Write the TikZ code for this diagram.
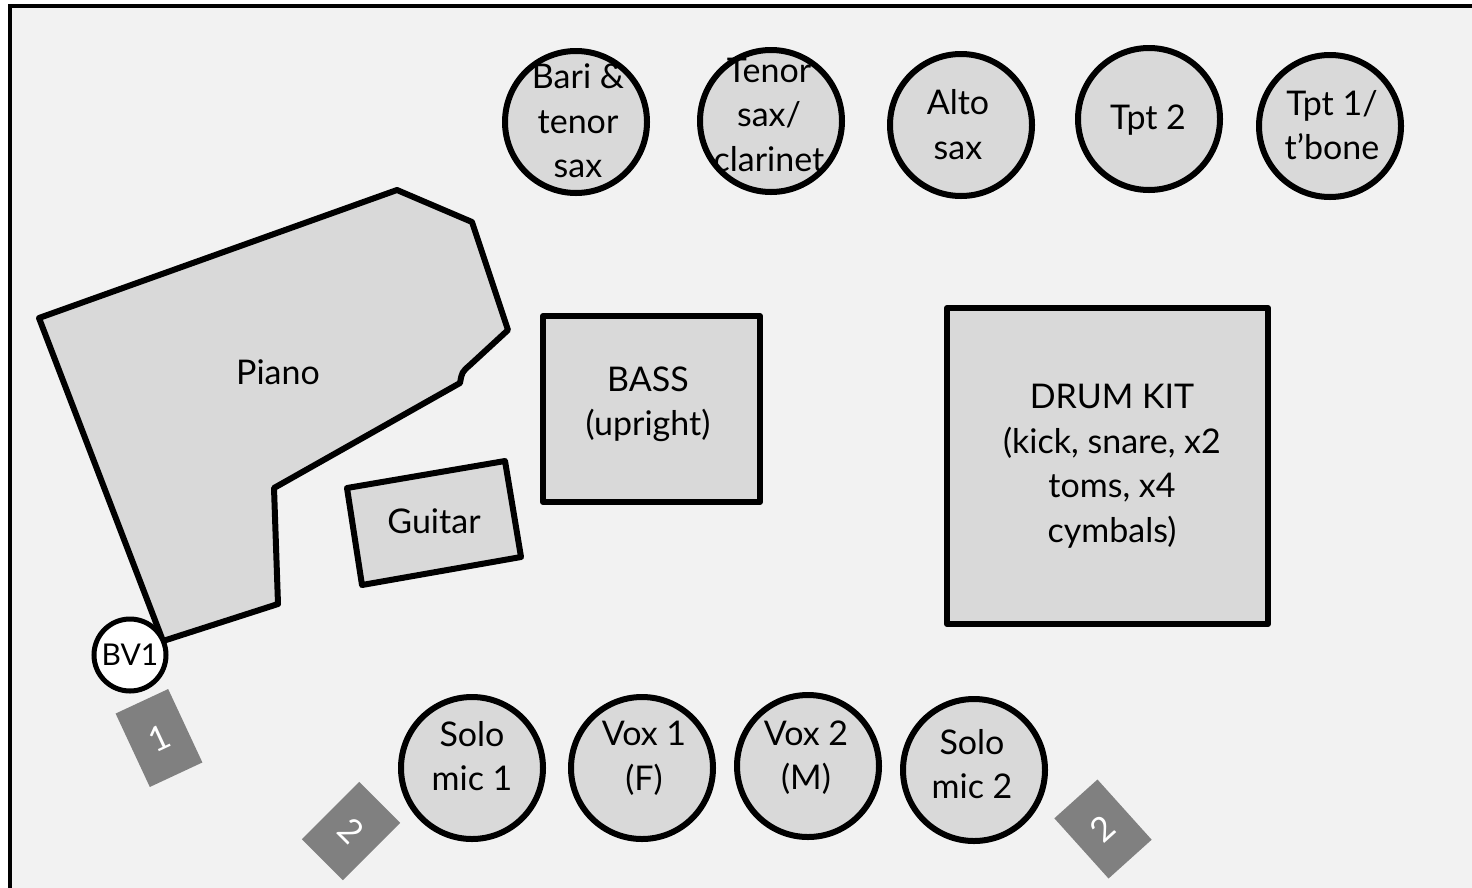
\documentclass[tikz,border=0pt]{standalone}
\usepackage{fontspec}
\setmainfont{Lato}
\definecolor{bgc}{HTML}{F2F2F2}
\definecolor{fillc}{HTML}{D9D9D9}
\definecolor{wedgec}{HTML}{808080}
\begin{document}
\begin{tikzpicture}[x=1pt,y=-1pt,
  instr/.style={draw=black,fill=fillc,line width=6pt,line join=round},
  seat/.style={circle,draw=black,fill=fillc,line width=6pt,minimum size=142pt,inner sep=0pt},
  txt/.style={align=center,font=\fontsize{34}{44.5}\selectfont,inner sep=0pt},
  ttxt/.style={align=center,font=\fontsize{34}{44.5}\selectfont,inner sep=0pt},
  wedge/.style={fill=wedgec,minimum width=58pt,minimum height=81pt,inner sep=0pt,text=white,font=\fontsize{34}{40}\selectfont}]
\useasboundingbox (0,0) rectangle (1472,887);
\fill[white] (0,0) rectangle (1472,887);
\fill[bgc] (10,6) rectangle (1490,900);
\draw[line width=3.5pt] (10,900) -- (10,6) -- (1490,6);
% piano
\draw[instr] (39,318) -- (397,190) -- (472,222) -- (508,330) -- (470,365)
  .. controls (462,372) .. (460,383) -- (274,488) -- (278,604) -- (163,641) -- cycle;
\node[txt] (piano) at (278,372) {Piano};
% guitar
\draw[instr] (347,488) -- (505,461) -- (521,557) -- (362,585) -- cycle;
\node[txt] (guitar) at (434,521) {Guitar};
% bass
\draw[instr] (543,316) rectangle (760,502);
\node[txt] (bass) at (648,404.5) {BASS\\(upright)};
% drums
\draw[instr] (947,308) rectangle (1268,624);
\node[txt] (drums) at (1112,466) {DRUM KIT\\(kick, snare, x2\\toms, x4\\cymbals)};
% top row
\node[seat] (bari) at (576,122) {};
\node[ttxt] (baritxt) at (578,121) {Bari \&\\tenor\\sax};
\node[seat] (tenor) at (771,121) {};
\node[ttxt] (tenortxt) at (769,114.5) {Tenor\\sax/\\clarinet};
\node[seat] (alto) at (961,125) {};
\node[ttxt] (altotxt) at (958,124.5) {Alto\\sax};
\node[seat] (tpt2) at (1149,119) {};
\node[ttxt] (tpt2txt) at (1148,120) {Tpt 2};
\node[seat] (tpt1) at (1330,126) {};
\node[ttxt] (tpt1txt) at (1332,125) {Tpt 1/\\t’bone};
% bottom row
\node[seat] (solo1) at (472,768) {};
\node[ttxt] (solo1txt) at (472,756) {Solo\\mic 1};
\node[seat] (vox1) at (642,768) {};
\node[ttxt] (vox1txt) at (644,758.5) {Vox 1\\(F)};
\node[seat] (vox2) at (808,766) {};
\node[ttxt] (vox2txt) at (806,757.5) {Vox 2\\(M)};
\node[seat] (solo2) at (974,770) {};
\node[ttxt] (solo2txt) at (972,764) {Solo\\mic 2};
% BV1
\node[circle,draw=black,fill=white,line width=5pt,minimum size=72pt,inner sep=0pt,
  font=\fontsize{30}{36}\selectfont] (bv1) at (130,655) {BV1};
% monitor wedges
\node[wedge,rotate=25] (m1) at (159,738) {1};
\node[wedge,rotate=-45] (m2) at (351,831) {2};
\node[wedge,rotate=42] (m3) at (1103,829) {2};
\end{tikzpicture}
\end{document}
